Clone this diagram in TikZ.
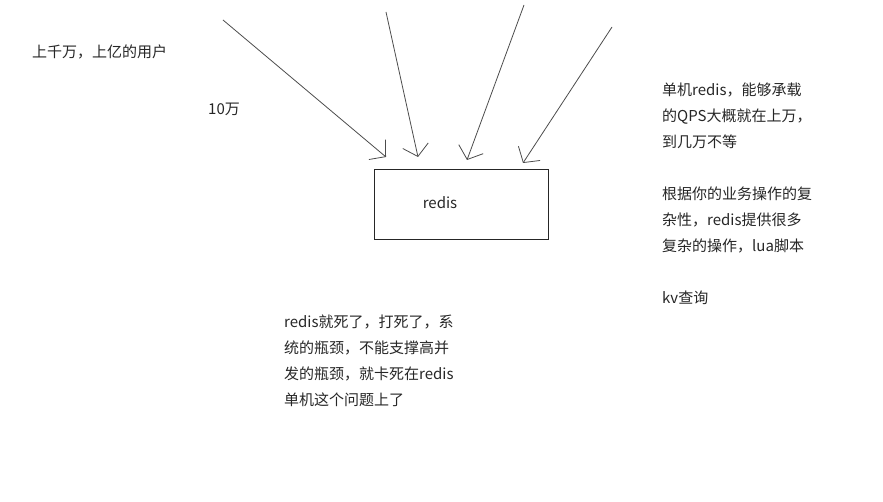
\documentclass[tikz,border=0pt]{standalone}
\usepackage{fontspec}
\newfontfamily\cjk{Noto Sans CJK SC}
\usetikzlibrary{arrows.meta}
\tikzset{
  txt/.style={inner sep=0pt, anchor=north west, align=left, font=\cjk\fontsize{15}{26}\selectfont, text=black!85},
  req/.style={draw=black!70, line width=0.8pt, -{Straight Barb[length=11pt,width=26pt,line width=0.8pt]}},
  box/.style={draw=black!85, line width=0.9pt, minimum width=174pt, minimum height=70pt, inner sep=0pt}
}
\begin{document}
\begin{tikzpicture}[x=1pt,y=-1pt]
\useasboundingbox (0,0) rectangle (883,502);
\node[box] (redis) at (461,204) {};
\node[inner sep=0pt, font=\cjk\fontsize{15}{16}\selectfont, text=black!85] (rlabel) at (440,203) {redis};
\coordinate (s1) at (223,20);  \coordinate (e1) at (386,157);
\coordinate (s2) at (386,12);  \coordinate (e2) at (418,157);
\coordinate (s3) at (524,5);   \coordinate (e3) at (467,160);
\coordinate (s4) at (612,27);  \coordinate (e4) at (523,163);
\draw[req] (s1) -- (e1);
\draw[req] (s2) -- (e2);
\draw[req] (s3) -- (e3);
\draw[req] (s4) -- (e4);
\node[txt] (users) at (32,45) {上千万，上亿的用户};
\node[txt] (tenk) at (208,103) {10万};
\node[txt] (qps) at (662,83) {单机redis，能够承载\\的QPS大概就在上万，\\到几万不等\\[26pt]根据你的业务操作的复\\杂性，redis提供很多\\复杂的操作，lua脚本\\[26pt]kv查询};
\node[txt] (dead) at (284,315) {redis就死了，打死了，系\\统的瓶颈，不能支撑高并\\发的瓶颈，就卡死在redis\\单机这个问题上了};
\end{tikzpicture}
\end{document}
